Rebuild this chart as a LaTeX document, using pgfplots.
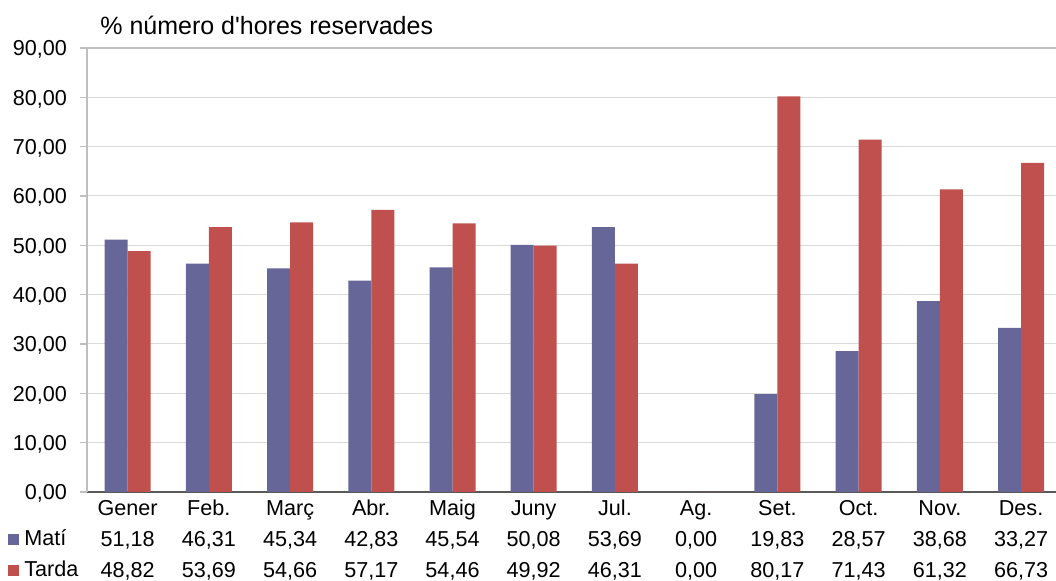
\documentclass[border=0pt]{standalone}
\usepackage{pgfplots}
\pgfplotsset{compat=1.18}
\usepackage{fontspec}
\setmainfont{Liberation Sans}
\definecolor{mati}{RGB}{102,102,153}
\definecolor{tarda}{RGB}{192,80,77}
\definecolor{gridc}{RGB}{217,217,217}
\definecolor{yaxc}{RGB}{191,191,191}
\definecolor{xaxc}{RGB}{89,89,89}
\newcommand\tl[3]{\rule{0pt}{8pt}#1\\#2\\#3}
\begin{document}
\begin{tikzpicture}
\useasboundingbox (-43.5pt,-44.5pt) rectangle (484.5pt,246pt);
\begin{axis}[
  scale only axis, width=484.5pt, height=222pt,
  at={(0,0)}, anchor=south west,
  xmin=-0.5, xmax=11.43, ymin=0, ymax=90,
  ybar=0pt, bar width=11.5pt,
  ytick={0,10,...,90},
  xtick={0,...,11},
  xticklabels={{\tl{Gener}{51,18}{48,82}},{\tl{Feb.}{46,31}{53,69}},{\tl{Març}{45,34}{54,66}},{\tl{Abr.}{42,83}{57,17}},{\tl{Maig}{45,54}{54,46}},{\tl{Juny}{50,08}{49,92}},{\tl{Jul.}{53,69}{46,31}},{\tl{Ag.}{0,00}{0,00}},{\tl{Set.}{19,83}{80,17}},{\tl{Oct.}{28,57}{71,43}},{\tl{Nov.}{38,68}{61,32}},{\tl{Des.}{33,27}{66,73}}},
  x tick label style={align=center, anchor=north, inner sep=0pt, yshift=0pt, font=\fontsize{10.8}{15.5}\selectfont},
  y tick label style={xshift=-3pt, yshift=-0.8pt, font=\fontsize{10.8}{13}\selectfont, /pgf/number format/.cd, fixed, fixed zerofill, precision=2, use comma, assume math mode=true},
  xtick style={draw=none},
  ytick style={yaxc, line width=0.6pt},
  tick align=outside, major tick length=3.5pt,
  axis x line*=bottom, axis y line*=left,
  x axis line style={xaxc, line width=0.9pt, -},
  y axis line style={yaxc, line width=0.9pt, -},
  ymajorgrids, grid style={gridc, line width=0.5pt},
  title={\% número d\textquotesingle hores reservades},
  title style={at={(axis description cs:0,1)}, anchor=base west, xshift=6.5pt, yshift=0.5pt, inner sep=0pt, font=\fontsize{12.5}{14}\selectfont},
  legend style={at={(axis description cs:0,0)}, anchor=north west, xshift=-39.5pt, yshift=-18.5pt, draw=none, fill=none, inner sep=0pt, row sep=5.5pt, column sep=2.5pt, font=\fontsize{10.8}{13}\selectfont, nodes={inner sep=0pt, text height=8pt, text depth=2pt}},
  legend cell align=left,
  legend image code/.code={\fill[#1] (0pt,-2.8pt) rectangle (5.5pt,2.7pt);},
  after end axis/.code={\draw[yaxc, line width=0.9pt] (rel axis cs:0,1) -- (rel axis cs:1,1);},
]
\addplot[fill=mati, draw=none] coordinates {(0,51.18) (1,46.31) (2,45.34) (3,42.83) (4,45.54) (5,50.08) (6,53.69) (7,0) (8,19.83) (9,28.57) (10,38.68) (11,33.27)};
\addplot[fill=tarda, draw=none] coordinates {(0,48.82) (1,53.69) (2,54.66) (3,57.17) (4,54.46) (5,49.92) (6,46.31) (7,0) (8,80.17) (9,71.43) (10,61.32) (11,66.73)};
\legend{Matí, Tarda}
\end{axis}
\end{tikzpicture}
\end{document}
